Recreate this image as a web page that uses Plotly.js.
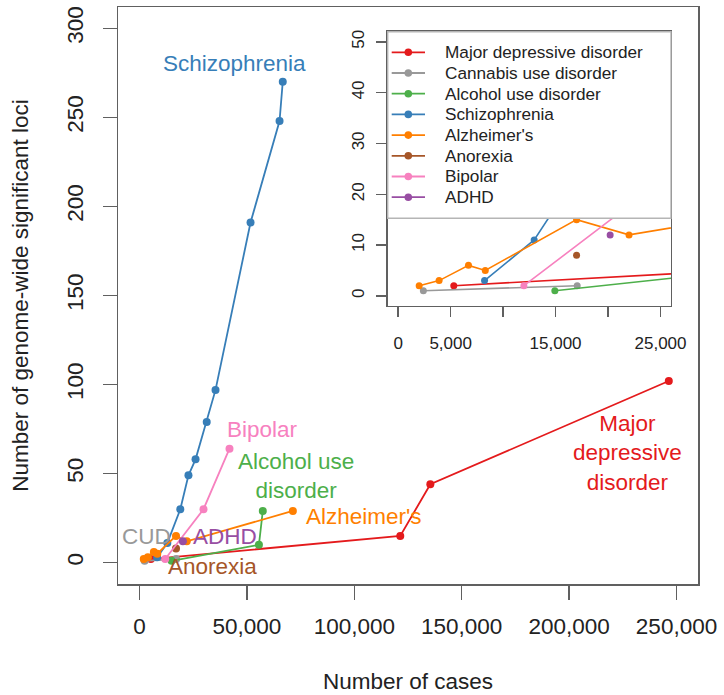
<!DOCTYPE html>
<html>
<head>
<meta charset="utf-8">
<script src="https://cdn.plot.ly/plotly-3.0.1.min.js"></script>
<style>
html,body{margin:0;padding:0;background:#fff;}
#chart{width:724px;height:695px;}
</style>
</head>
<body>
<div id="chart"></div>
<script>
// ---- data (number of cases, number of genome-wide significant loci) ----
const mddX = [5300, 121400, 135400, 246400];
const mddY = [2, 15, 44, 102];
const cudX = [2400, 17060];
const cudY = [1, 2];
const audX = [14930, 55600, 57400];
const audY = [1, 10, 29];
const sczX = [8230, 12960, 19000, 22800, 26100, 31300, 35400, 51700, 65200, 66700];
const sczY = [3, 11, 30, 49, 58, 79, 97, 191, 248, 270];
const alzX = [2000, 3900, 6700, 8300, 17000, 22000, 71400];
const alzY = [2, 3, 6, 5, 15, 12, 29];
const anX = [17000];
const anY = [8];
const bipX = [11980, 29800, 41900];
const bipY = [2, 30, 64];
const adhdX = [20200];
const adhdY = [12];

const legendNames = ["Major depressive disorder", "Cannabis use disorder", "Alcohol use disorder",
  "Schizophrenia", "Alzheimer's", "Anorexia", "Bipolar", "ADHD"];
const plotLabels = ["Major\ndepressive\ndisorder", "CUD", "Alcohol use\ndisorder",
  "Schizophrenia", "Alzheimer's", "Anorexia", "Bipolar", "ADHD"];

const mainTicks = [0, 50000, 100000, 150000, 200000, 250000];
const mainTickText = ["0", "50,000", "100,000", "150,000", "200,000", "250,000"];
const mainYTicks = [0, 50, 100, 150, 200, 250, 300];
const insetTicks = [0, 5000, 10000, 15000, 20000, 25000];
const insetTickText = ["0", "5,000", "", "15,000", "", "25,000"];
const insetYTicks = [0, 10, 20, 30, 40, 50];

// ---- styling ----
const colors = ["#E41A1C", "#999999", "#4DAF4A", "#377EB8", "#FF7F00", "#A65628", "#F781BF", "#984EA3"];
const series = [[mddX, mddY], [cudX, cudY], [audX, audY], [sczX, sczY], [alzX, alzY], [anX, anY], [bipX, bipY], [adhdX, adhdY]];
const FONT = "Liberation Sans, Arial, Helvetica, sans-serif";
const axisCol = "#606060";

const traces = [];
series.forEach((s, i) => {
  traces.push({
    x: s[0], y: s[1], type: "scatter", mode: "lines+markers",
    xaxis: "x", yaxis: "y", showlegend: false, name: legendNames[i],
    line: {color: colors[i], width: 1.8}, marker: {color: colors[i], size: 8},
    cliponaxis: false
  });
});
series.forEach((s, i) => {
  traces.push({
    x: s[0], y: s[1], type: "scatter", mode: "lines+markers",
    xaxis: "x2", yaxis: "y2", showlegend: false, name: legendNames[i],
    line: {color: colors[i], width: 1.6}, marker: {color: colors[i], size: 7},
    cliponaxis: true
  });
});

// label positions (data coords, main axes)
const labelPos = [[227100, 61.4], [3100, 14.6], [72700, 48.7], [44000, 280.3],
  [104700, 25.9], [33800, -2.2], [57100, 74.6], [39600, 14.6]];
const annotations = plotLabels.map((t, i) => ({
  x: labelPos[i][0], y: labelPos[i][1], xref: "x", yref: "y",
  text: t.replace(/\n/g, "<br>"), showarrow: false, align: "center",
  font: {family: FONT, size: 22.5, color: colors[i]}
}));

// ---- page geometry ----
const W = 724, H = 695, M = {l: 118, r: 26, t: 7, b: 111};
const plotW = W - M.l - M.r, plotH = H - M.t - M.b;
const px2x = px => (px - M.l) / plotW;
const px2y = py => (H - M.b - py) / plotH;

// inset geometry in paper coords
const inX0 = px2x(387.7), inX1 = px2x(671), inY0 = px2y(306), inY1 = px2y(31.7);
const legBottom = px2y(218.3);

const shapes = [
  {type: "rect", xref: "paper", yref: "paper", x0: inX0, x1: inX1, y0: legBottom, y1: inY1,
   fillcolor: "#fff", line: {color: "#b5b5b5", width: 1.4}, layer: "above"}
];
// legend key (drawn inside the white box)
legendNames.forEach((n, i) => {
  const yc = px2y(52.3 + i * 20.7);
  shapes.push({type: "line", xref: "paper", yref: "paper", x0: px2x(391.7), x1: px2x(425), y0: yc, y1: yc,
    line: {color: colors[i], width: 1.8}, layer: "above"});
  shapes.push({type: "circle", xref: "paper", yref: "paper", xsizemode: "pixel", ysizemode: "pixel",
    xanchor: px2x(408.3), yanchor: yc, x0: -3.8, x1: 3.8, y0: -3.8, y1: 3.8,
    fillcolor: colors[i], line: {width: 0}, layer: "above"});
  annotations.push({x: px2x(443), y: yc, xref: "paper", yref: "paper", xanchor: "left", yanchor: "middle",
    text: n, showarrow: false, font: {family: FONT, size: 17.2, color: "#222"}});
});

const layout = {
  width: W, height: H,
  margin: M,
  paper_bgcolor: "#fff", plot_bgcolor: "#fff",
  font: {family: FONT, color: "#222"},
  showlegend: false,
  xaxis: {
    domain: [0, 1], range: [-10000, 260000], tickmode: "array",
    tickvals: mainTicks, ticktext: mainTickText,
    ticks: "outside", ticklen: 14, tickwidth: 1.5, tickcolor: axisCol,
    showline: true, linecolor: axisCol, linewidth: 1.5, mirror: true,
    showgrid: false, zeroline: false, ticklabelstandoff: 7,
    tickfont: {family: FONT, size: 22.5, color: "#222"},
    title: {text: "Number of cases", font: {family: FONT, size: 22.5, color: "#222"}, standoff: 35}
  },
  yaxis: {
    domain: [0, 1], range: [-12, 312], tickmode: "array", tickvals: mainYTicks,
    ticks: "outside", ticklen: 14, tickwidth: 1.5, tickcolor: axisCol,
    showline: true, linecolor: axisCol, linewidth: 1.5, mirror: true,
    showgrid: false, zeroline: false, tickangle: -90, ticklabelstandoff: 11,
    tickfont: {family: FONT, size: 22.5, color: "#222"},
    title: {text: "Number of genome-wide significant loci", font: {family: FONT, size: 22.5, color: "#222"}, standoff: 27}
  },
  xaxis2: {
    domain: [inX0, inX1], anchor: "y2", range: [-1000, 26000], tickmode: "array",
    tickvals: insetTicks, ticktext: insetTickText,
    ticks: "outside", ticklen: 10, tickwidth: 1.4, tickcolor: axisCol,
    showline: true, linecolor: axisCol, linewidth: 1.4, mirror: true,
    showgrid: false, zeroline: false, ticklabelstandoff: 11,
    tickfont: {family: FONT, size: 17, color: "#222"}
  },
  yaxis2: {
    domain: [inY0, inY1], anchor: "x2", range: [-2, 52], tickmode: "array", tickvals: insetYTicks,
    ticks: "outside", ticklen: 10, tickwidth: 1.4, tickcolor: axisCol,
    showline: true, linecolor: axisCol, linewidth: 1.4, mirror: true,
    showgrid: false, zeroline: false, tickangle: -90, ticklabelstandoff: 6,
    tickfont: {family: FONT, size: 17, color: "#222"}
  },
  shapes: shapes,
  annotations: annotations
};

Plotly.newPlot("chart", traces, layout, {displayModeBar: false, staticPlot: true});
</script>
</body>
</html>
